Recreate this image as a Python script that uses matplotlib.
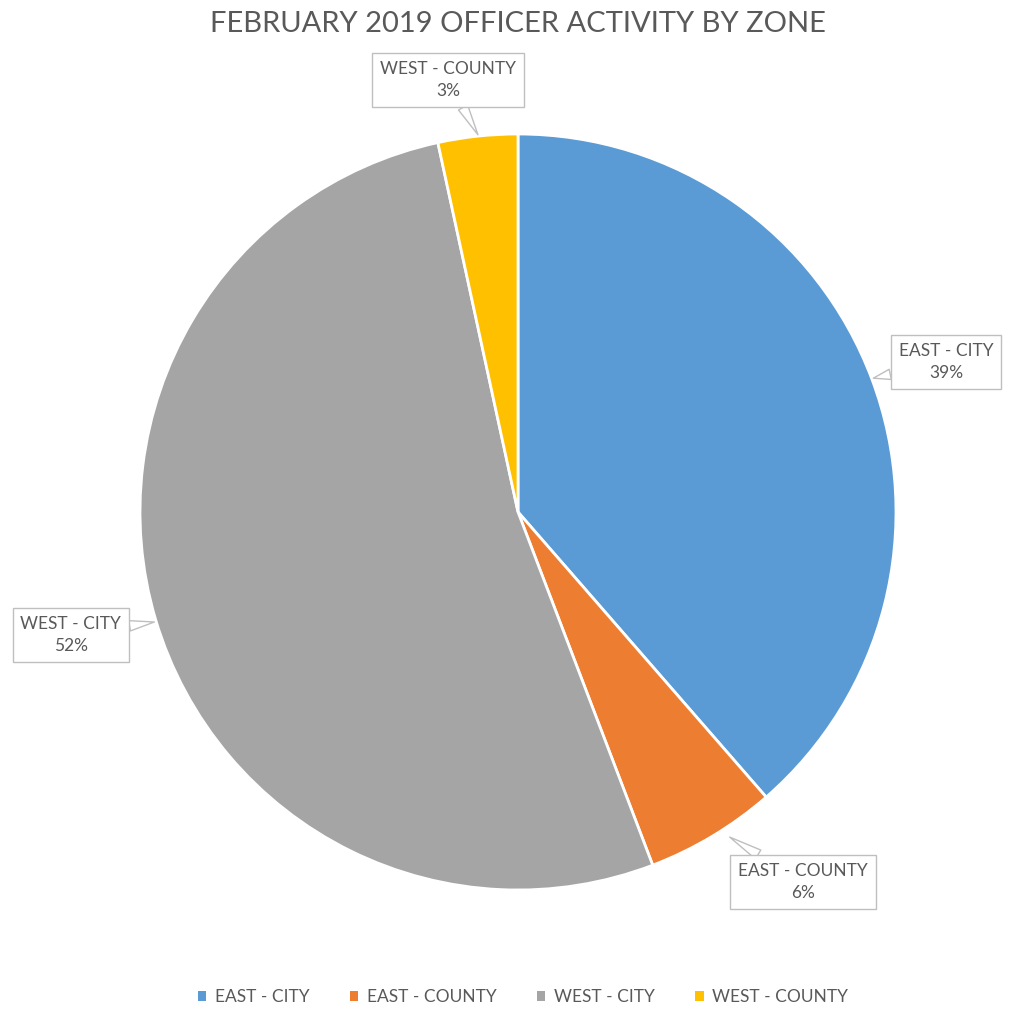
import matplotlib
matplotlib.use("Agg")
from matplotlib import pyplot as plt
from matplotlib.patches import Patch

zones = ["EAST - CITY", "EAST - COUNTY", "WEST - CITY", "WEST - COUNTY"]
share = [38.6, 5.6, 52.4, 3.4]
pct_labels = ["39%", "6%", "52%", "3%"]
colors = ["#5B9BD5", "#ED7D31", "#A5A5A5", "#FFC000"]

plt.rcParams['font.family'] = ['Lato', 'DejaVu Sans']
txt = "#595959"

fig = plt.figure(figsize=(10.09, 10.11), dpi=100)
ax = fig.add_axes([140/1009, 121/1011, 756/1009, 756/1011])

wedges, _ = ax.pie(share, colors=colors, startangle=90, counterclock=False,
                   radius=1.0, wedgeprops=dict(edgecolor="white", linewidth=2))
ax.set_xlim(-1, 1)
ax.set_ylim(-1, 1)
ax.set_aspect("equal")

# callout label positions (text centre, pointer tip)
callouts = [((1.132, 0.397), (0.94, 0.354)),
            ((0.754, -0.979), (0.56, -0.86)),
            ((-1.183, -0.325), (-0.962, -0.291)),
            ((-0.185, 1.143), (-0.106, 0.998))]
for i, (xy_text, xy_tip) in enumerate(callouts):
    ax.annotate(zones[i] + "\n" + pct_labels[i], xy=xy_tip, xytext=xy_text,
                ha="center", va="center", fontsize=12.5, color=txt,
                linespacing=1.5, annotation_clip=False,
                bbox=dict(boxstyle="square,pad=0.45", fc="white", ec="#BFBFBF", lw=1),
                arrowprops=dict(arrowstyle="wedge,tail_width=0.6,shrink_factor=0.5",
                                fc="white", ec="#BFBFBF", lw=1, shrinkA=0, shrinkB=0))

fig.text(518/1009, 1 - 24/1011, "FEBRUARY 2019 OFFICER ACTIVITY BY ZONE",
         ha="center", va="center", fontsize=21, color=txt)

handles = [Patch(facecolor=c, edgecolor="none") for c in colors]
fig.legend(handles, zones, loc="center", bbox_to_anchor=(523/1009, 1 - 997/1011),
           ncol=4, frameon=False, fontsize=12.5, labelcolor=txt,
           handlelength=0.5, handleheight=0.5, handletextpad=0.5, columnspacing=2.3)

fig.savefig("out.png", dpi=100)
